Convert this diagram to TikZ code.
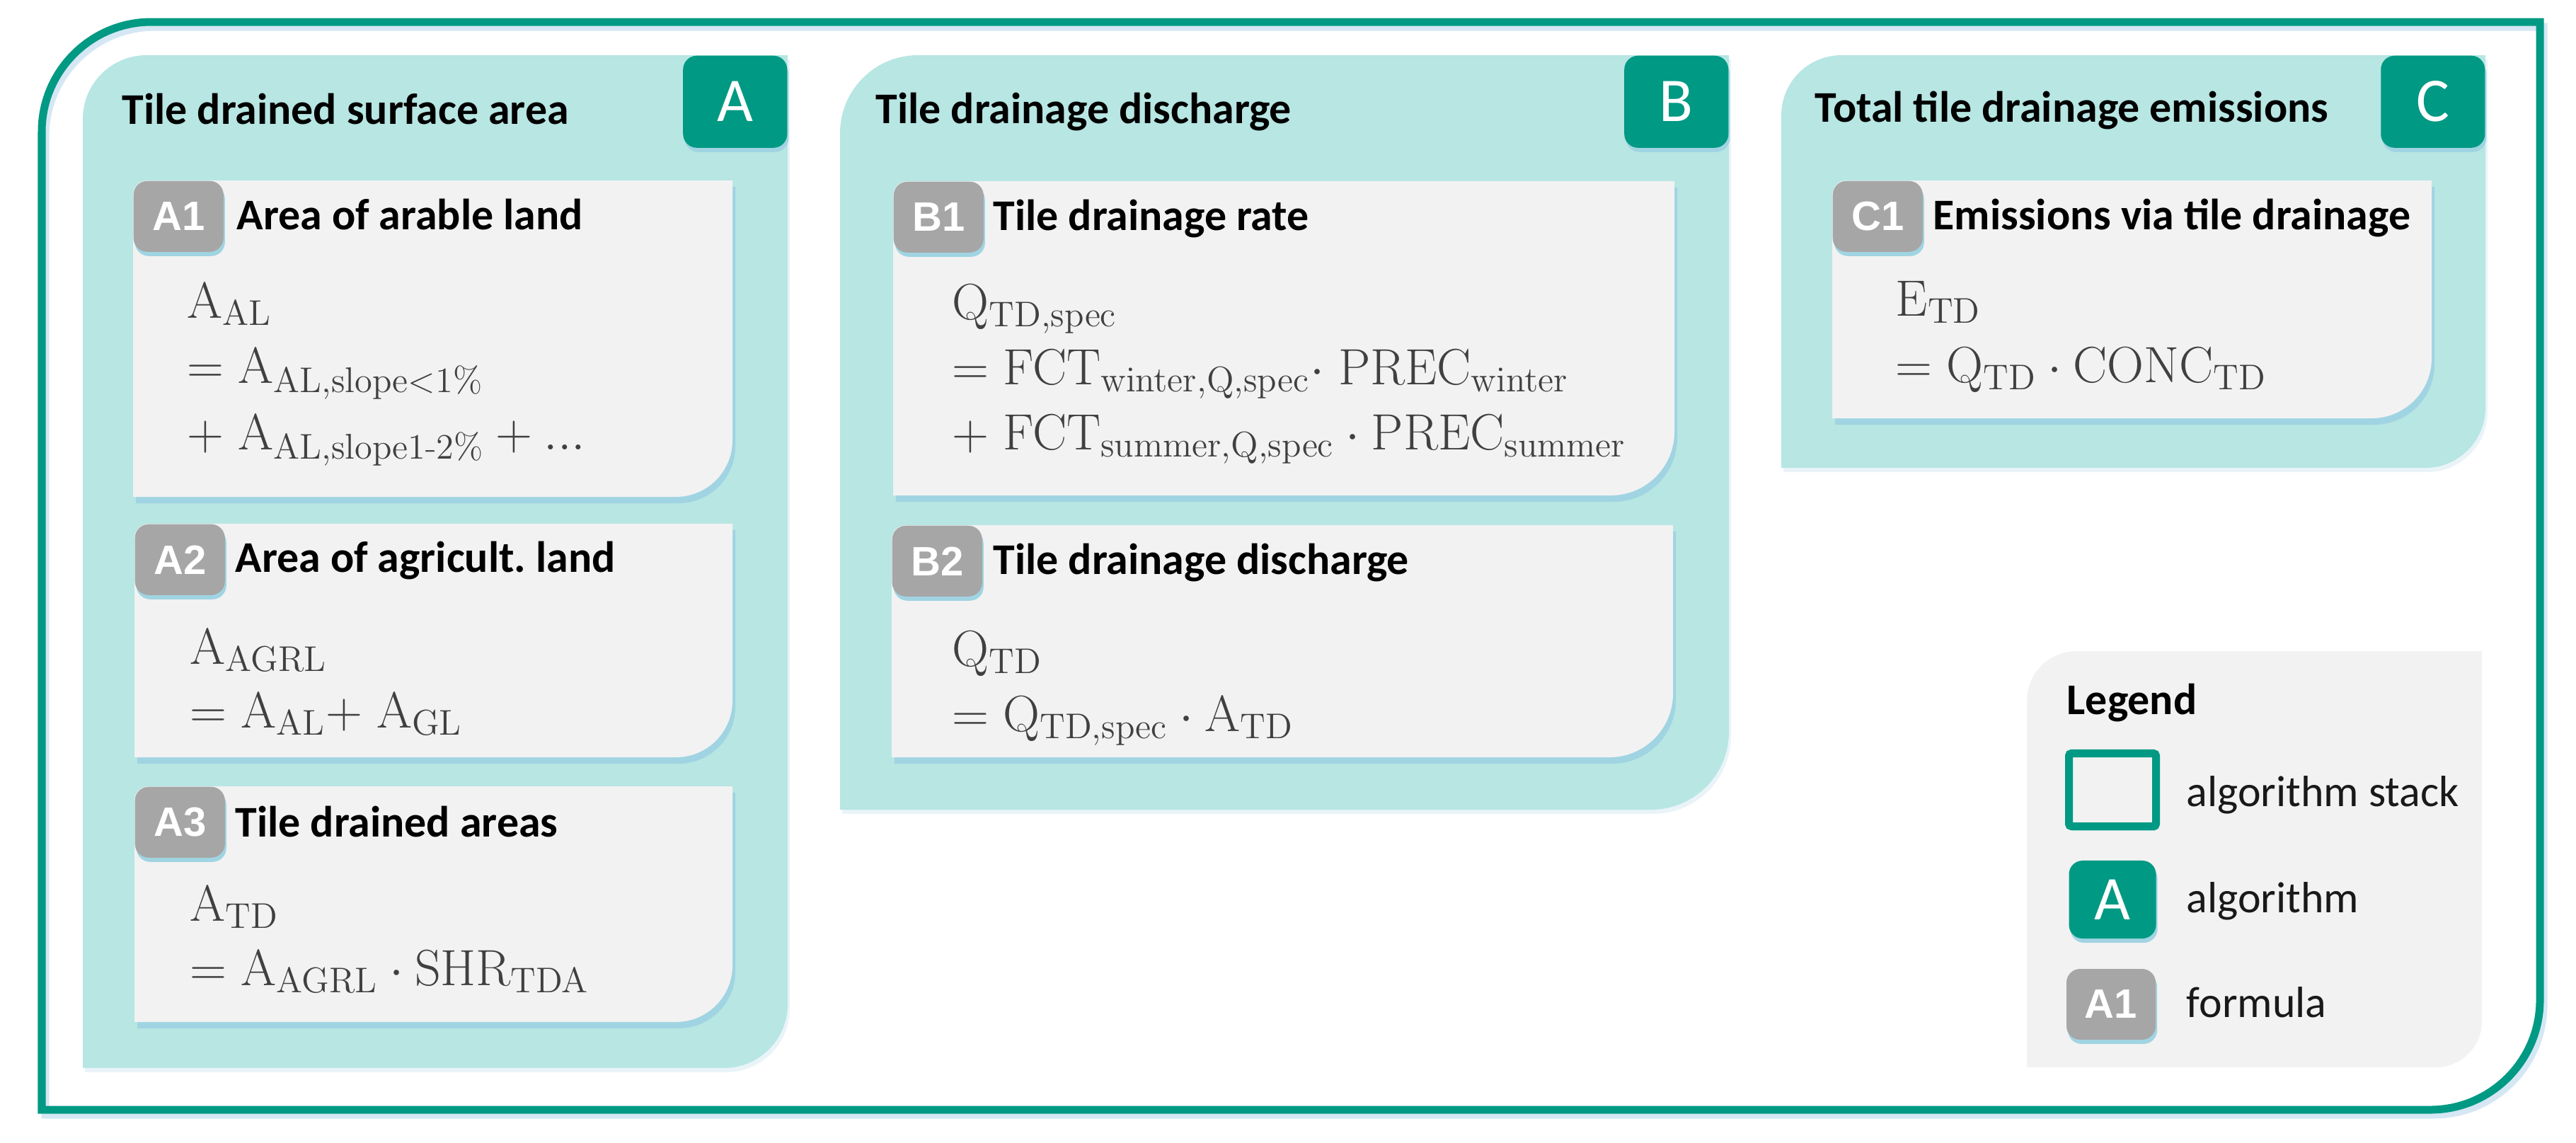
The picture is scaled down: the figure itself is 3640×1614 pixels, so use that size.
\RequirePackage{fix-cm}
\documentclass[tikz,border=0pt]{standalone}
\usepackage{amsmath}
\usepackage[no-math]{fontspec}
\setmainfont{Carlito}
\newfontfamily\badgefont{Liberation Sans}
\newfontfamily\eqfont{Latin Modern Roman}
\usetikzlibrary{shadows}
\definecolor{tdteal}{HTML}{009983}
\definecolor{tdpanel}{HTML}{B7E6E3}
\definecolor{tdgrey}{HTML}{F2F2F2}
\definecolor{tdbadge}{HTML}{A6A6A6}
\definecolor{tdshadow}{HTML}{A0D4E2}
\definecolor{tdframeshadow}{HTML}{D5E7F4}
\definecolor{tdpanelshadow}{HTML}{EAF4F8}
\definecolor{tdtext}{HTML}{404040}
% shape with round top left and bottom right corners
\newcommand{\tdshape}[7]{%
  \path[#1] (#2,#5) -- (#2,#3+#6) arc[start angle=180,end angle=270,radius=#6]
    -- (#4,#3) -- (#4,#5-#7) arc[start angle=0,end angle=90,radius=#7] -- cycle;}
\tikzset{
  stack/.style={fill=tdpanel},
  formbox/.style={fill=tdgrey},
  boxshadow/.style={fill=tdshadow,shift={(4,9)}},
  algo/.style={fill=tdteal,text=white,rounded corners=5.5pt,inner sep=0pt,
    minimum width=1.47cm,minimum height=1.3cm,font=\fontsize{25}{30}\selectfont,
    drop shadow={fill=tdshadow,opacity=1,shadow xshift=0.02cm,shadow yshift=-0.06cm}},
  formula/.style={fill=tdbadge,text=white,rounded corners=5.5pt,inner sep=0pt,
    minimum width=1.27cm,minimum height=1cm,font=\badgefont\bfseries\fontsize{16.5}{19}\selectfont,
    drop shadow={fill=tdshadow,opacity=1,shadow xshift=0.02cm,shadow yshift=-0.06cm}},
  head/.style={anchor=base west,inner sep=0pt,font=\bfseries\fontsize{17.6}{21}\selectfont},
  eq/.style={anchor=base west,inner sep=0pt,text=tdtext,font=\fontsize{20.5}{25}\selectfont},
  legtext/.style={anchor=base west,inner sep=0pt,text=black!90,font=\fontsize{17.6}{21}\selectfont}
}
\begin{document}
\begin{tikzpicture}[x=0.01cm,y=-0.01cm]
  \useasboundingbox (0,0) rectangle (3640,1614);
  % outer frame
  \tdshape{draw=tdframeshadow,line width=0.11cm,shift={(5,7)}}{59}{31}{3589}{1568}{155}{155}
  \tdshape{draw=tdteal,line width=0.11cm}{59}{31}{3589}{1568}{155}{155}
  % algorithm stacks
  \tdshape{fill=tdpanelshadow,shift={(3,6)}}{117}{78}{1113}{1509}{90}{90}
  \tdshape{stack}{117}{78}{1113}{1509}{90}{90}
  \tdshape{fill=tdpanelshadow,shift={(3,6)}}{1187}{78}{2443}{1144}{110}{110}
  \tdshape{stack}{1187}{78}{2443}{1144}{110}{110}
  \tdshape{fill=tdpanelshadow,shift={(3,6)}}{2517}{78}{3512}{661}{85}{85}
  \tdshape{stack}{2517}{78}{3512}{661}{85}{85}
  % formula boxes
  \tdshape{boxshadow}{188}{255}{1035}{702}{20}{80}
  \tdshape{formbox}{188}{255}{1035}{702}{20}{80}
  \tdshape{boxshadow}{190}{740}{1035}{1070}{20}{80}
  \tdshape{formbox}{190}{740}{1035}{1070}{20}{80}
  \tdshape{boxshadow}{190}{1111}{1035}{1444}{20}{80}
  \tdshape{formbox}{190}{1111}{1035}{1444}{20}{80}
  \tdshape{boxshadow}{1262}{256}{2366}{700}{20}{90}
  \tdshape{formbox}{1262}{256}{2366}{700}{20}{90}
  \tdshape{boxshadow}{1260}{742}{2364}{1070}{20}{90}
  \tdshape{formbox}{1260}{742}{2364}{1070}{20}{90}
  \tdshape{boxshadow}{2589}{255}{3436}{591}{20}{85}
  \tdshape{formbox}{2589}{255}{3436}{591}{20}{85}
  % legend
  \tdshape{formbox}{2864}{920}{3507}{1508}{70}{65}

  % A: tile drained surface area
  \node[algo,anchor=north east] (algA) at (1113,78) {A};
  \node[head] (titA) at (172,175) {Tile drained surface area};
  \node[formula,anchor=north west] (frmA1) at (188,255) {A1};
  \node[head] (titA1) at (334,324) {Area of arable land};
  \node[eq] (a1l1) at (264,449) {$\mathrm{A_{AL}}$};
  \node[eq] (a1l2) at (264,541) {$= \mathrm{A_{AL{,}slope{<}1\%}}$};
  \node[eq] (a1l3) at (264,635) {$\mathrel{+} \mathrm{A_{AL{,}slope1\text{\eqfont -}2\%}} + \mathrm{...}$};
  \node[formula,anchor=north west] (frmA2) at (190,740) {A2};
  \node[head] (titA2) at (332,808) {Area of agricult.\ land};
  \node[eq] (a2l1) at (268,938) {$\mathrm{A_{AGRL}}$};
  \node[eq] (a2l2) at (268,1028) {$= \mathrm{A_{AL}}{+}\;\mathrm{A_{GL}}$};
  \node[formula,anchor=north west] (frmA3) at (190,1111) {A3};
  \node[head] (titA3) at (332,1182) {Tile drained areas};
  \node[eq] (a3l1) at (268,1301) {$\mathrm{A_{TD}}$};
  \node[eq] (a3l2) at (268,1392) {$= \mathrm{A_{AGRL}} \cdot \mathrm{SHR_{TDA}}$};

  % B: tile drainage discharge
  \node[algo,anchor=north east] (algB) at (2443,78) {B};
  \node[head] (titB) at (1237,174) {Tile drainage discharge};
  \node[formula,anchor=north west] (frmB1) at (1262,256) {B1};
  \node[head] (titB1) at (1403,325) {Tile drainage rate};
  \node[eq] (b1l1) at (1345,451) {$\mathrm{Q_{TD{,}spec}}$};
  \node[eq] (b1l2) at (1345,543) {$= \mathrm{FCT_{winter{,}Q{,}spec}}{\cdot}\; \mathrm{PREC_{winter}}$};
  \node[eq] (b1l3) at (1345,635) {$\mathrel{+} \mathrm{FCT_{summer{,}Q{,}spec}} \cdot \mathrm{PREC_{summer}}$};
  \node[formula,anchor=north west] (frmB2) at (1260,742) {B2};
  \node[head] (titB2) at (1403,811) {Tile drainage discharge};
  \node[eq] (b2l1) at (1345,941) {$\mathrm{Q_{TD}}$};
  \node[eq] (b2l2) at (1345,1033) {$= \mathrm{Q_{TD{,}spec}} \cdot \mathrm{A_{TD}}$};

  % C: total tile drainage emissions
  \node[algo,anchor=north east] (algC) at (3512,78) {C};
  \node[head] (titC) at (2564,172) {Total tile drainage emissions};
  \node[formula,anchor=north west] (frmC1) at (2589,255) {C1};
  \node[head] (titC1) at (2731,324) {Emissions via tile drainage};
  \node[eq] (c1l1) at (2678,446) {$\mathrm{E_{TD}}$};
  \node[eq] (c1l2) at (2678,540) {$= \mathrm{Q_{TD}} \cdot \mathrm{CONC_{TD}}$};

  % legend entries
  \node[head] (legtit) at (2920,1009) {Legend};
  \node[draw=tdteal,line width=0.11cm,fill=tdgrey,rounded corners=1pt,minimum width=1.23cm,minimum height=1.03cm,
    drop shadow={fill=tdshadow,opacity=1,shadow xshift=0.02cm,shadow yshift=-0.06cm}] (legstack) at (2985,1116) {};
  \node[legtext] (legstacktxt) at (3089,1139) {algorithm stack};
  \node[algo,minimum width=1.23cm,minimum height=1.1cm] (legalgo) at (2985,1271) {A};
  \node[legtext] (legalgotxt) at (3089,1289) {algorithm};
  \node[formula,minimum width=1.26cm] (legform) at (2983,1419) {A1};
  \node[legtext] (legformtxt) at (3089,1437) {formula};
\end{tikzpicture}
\end{document}
